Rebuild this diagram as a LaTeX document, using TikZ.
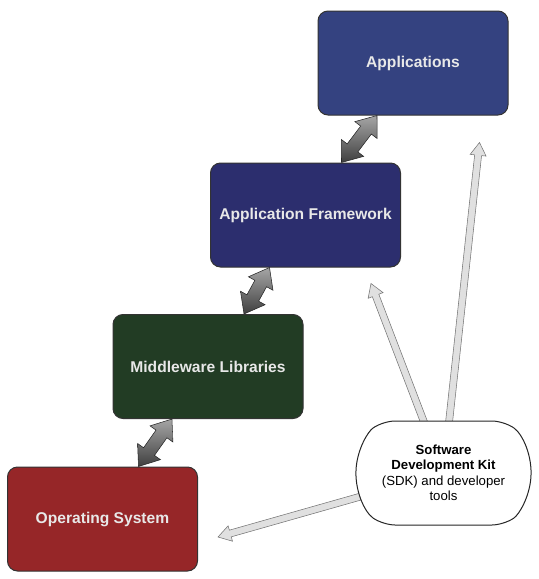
\documentclass[tikz,border=0pt]{standalone}
\usepackage{fontspec}
\setmainfont{Liberation Sans}
\usetikzlibrary{calc,shapes.arrows,shapes.misc}
\pgfdeclarelayer{background}
\pgfsetlayers{background,main}
\definecolor{appblue}{RGB}{52,66,128}
\definecolor{fwblue}{RGB}{44,46,110}
\definecolor{mwgreen}{RGB}{34,60,36}
\definecolor{osred}{RGB}{150,38,40}
\definecolor{labgray}{RGB}{232,232,232}

\begin{document}
\begin{tikzpicture}[x=0.75pt,y=-0.75pt,line width=0.75pt,
  layer/.style={draw=black!80,rounded corners=7.5pt,minimum width=142.5pt,minimum height=78pt,text=labgray,font=\bfseries\fontsize{11.7}{14}\selectfont},
  sdkbox/.style={rounded rectangle,rounded rectangle arc length=110,rounded corners=9pt,draw=black!85,fill=white,minimum width=138pt,minimum height=78pt,align=center,font=\fontsize{9.9}{11.6}\selectfont},
  link/.style={double arrow,double arrow head extend=5.5pt,double arrow tip angle=75,inner sep=4.8pt,outer sep=0pt,sloped,draw=black!85,top color=black!35,bottom color=black!75},
  tool/.style={single arrow,single arrow head extend=3.4pt,single arrow tip angle=64,inner sep=2.4pt,outer sep=0pt,sloped,allow upside down,pos=1,anchor=tip,draw=black!55,fill=black!12}]
\useasboundingbox (0,0) rectangle (539,579);
% the four layers
\node[layer,fill=appblue] (app) at (413,63) {Applications};
\node[layer,fill=fwblue] (fw) at (305.5,215) {Application Framework};
\node[layer,fill=mwgreen] (mw) at (208,366.5) {Middleware Libraries};
\node[layer,fill=osred] (os) at (102.5,519) {Operating System};
% sdk
\node[sdkbox] (sdk) at (443.5,473) {\textbf{Software}\\\textbf{Development Kit}\\(SDK) and developer\\tools};
\coordinate (os-in) at ($(os.east)+(20,18)$);
\coordinate (fw-in) at ($(fw.south east)+(-30,16)$);
\coordinate (app-in) at ($(app.south east)+(-29,27)$);
\begin{pgfonlayer}{background}
\foreach \lo/\hi in {fw/app,mw/fw,os/mw}
  \path let \p1=($(\hi.south)+(-36,0)$), \p2=($(\lo.north)+(36,0)$), \n1={veclen(\x1-\x2,\y1-\y2)} in
    (\p2) -- node[link,minimum height=\n1] (l-\lo) {} (\p1);
\foreach \t/\len in {os-in/160,fw-in/170,app-in/300}
  \path (sdk.center) -- node[tool,minimum height=\len*0.75pt] (a-\t) {} (\t);
\end{pgfonlayer}
\end{tikzpicture}
\end{document}
